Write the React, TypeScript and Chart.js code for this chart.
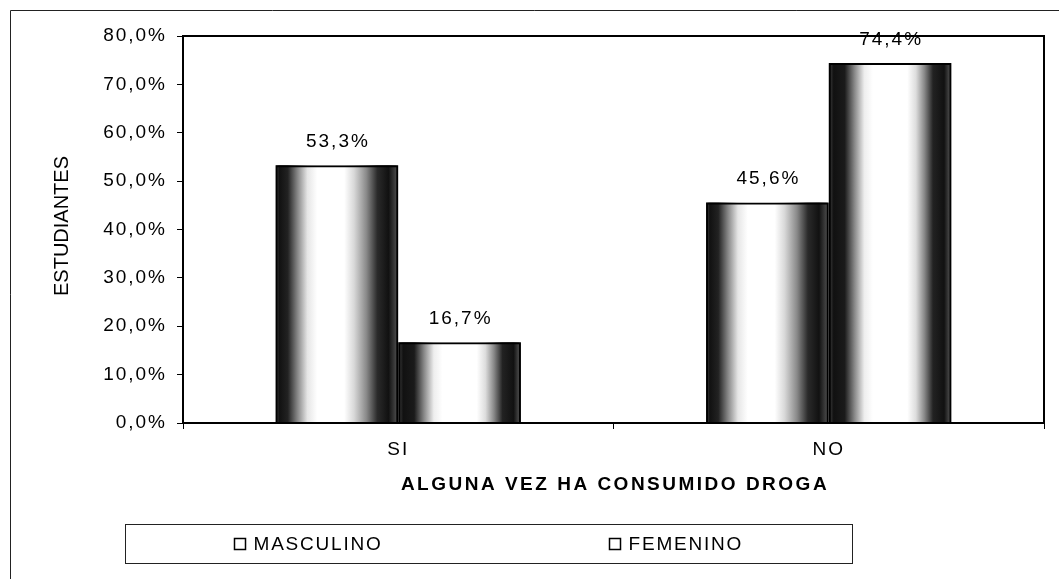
import React, { useEffect, useRef } from 'react';
import { Chart, registerables } from 'chart.js';

Chart.register(...registerables);

const categories = ['SI', 'NO'];
const seriesNames = ['MASCULINO', 'FEMENINO'];
const masculino = [53.3, 45.6];
const femenino = [16.7, 74.4];
const yTickValues = [0, 10, 20, 30, 40, 50, 60, 70, 80];
const yTitle = 'ESTUDIANTES';
const xTitle = 'ALGUNA VEZ HA CONSUMIDO DROGA';

const FONT = '"Liberation Sans", Arial, sans-serif';
const LS = '2px';

const fmt = (v: number) => v.toFixed(1).replace('.', ',') + '%';

const gradientStops: Array<Array<[number, string]>> = [
  [
    [0, '#555'], [0.03, '#111'], [0.1, '#222'], [0.18, '#888'], [0.26, '#e6e6e6'],
    [0.34, '#fff'], [0.56, '#fff'], [0.64, '#d8d8d8'], [0.74, '#8a8a8a'],
    [0.83, '#2a2a2a'], [0.92, '#111'], [0.98, '#444'], [1, '#888'],
  ],
  [
    [0, '#444'], [0.04, '#111'], [0.13, '#1a1a1a'], [0.21, '#888'], [0.29, '#eee'],
    [0.36, '#fff'], [0.64, '#fff'], [0.71, '#ddd'], [0.78, '#888'],
    [0.85, '#222'], [0.94, '#111'], [0.98, '#444'], [1, '#888'],
  ],
];

const stylePlugin = {
  id: 'refStyle',
  beforeUpdate(chart: any) {
    chart.ctx.letterSpacing = LS;
  },
  beforeLayout(chart: any) {
    chart.ctx.letterSpacing = LS;
  },
  beforeDraw(chart: any) {
    const ctx = chart.ctx;
    ctx.letterSpacing = LS;
    ctx.save();
    ctx.fillStyle = '#fff';
    ctx.fillRect(0, 0, chart.width, chart.height);
    ctx.strokeStyle = '#222';
    ctx.lineWidth = 1;
    ctx.beginPath();
    ctx.moveTo(10.5, chart.height);
    ctx.lineTo(10.5, 10.5);
    ctx.lineTo(chart.width, 10.5);
    ctx.stroke();
    ctx.restore();
  },
  beforeDatasetsDraw(chart: any) {
    const ctx = chart.ctx;
    ctx.save();
    chart.data.datasets.forEach((ds: any, di: number) => {
      const meta = chart.getDatasetMeta(di);
      meta.data.forEach((bar: any) => {
        const p = bar.getProps(['x', 'y', 'base', 'width'], true);
        const left = p.x - p.width / 2;
        const right = p.x + p.width / 2;
        const g = ctx.createLinearGradient(left, 0, right, 0);
        gradientStops[di % gradientStops.length].forEach(([o, c]) => g.addColorStop(o, c));
        ctx.fillStyle = g;
        ctx.fillRect(left, Math.min(p.y, p.base), p.width, Math.abs(p.base - p.y));
      });
    });
    ctx.restore();
  },
  afterDatasetsDraw(chart: any) {
    const ctx = chart.ctx;
    const a = chart.chartArea;
    ctx.save();
    ctx.strokeStyle = '#000';
    ctx.lineWidth = 2;
    ctx.strokeRect(a.left, a.top, a.right - a.left, a.bottom - a.top);
    ctx.fillStyle = '#000';
    ctx.font = `19px ${FONT}`;
    ctx.letterSpacing = LS;
    ctx.textAlign = 'center';
    ctx.textBaseline = 'alphabetic';
    chart.data.datasets.forEach((ds: any, di: number) => {
      const meta = chart.getDatasetMeta(di);
      meta.data.forEach((bar: any, i: number) => {
        const p = bar.getProps(['x', 'y'], true);
        ctx.fillText(fmt(ds.data[i]), p.x + 1, p.y - 18);
      });
    });
    ctx.restore();
  },
  afterDraw(chart: any) {
    const ctx = chart.ctx;
    ctx.save();
    ctx.fillStyle = '#000';
    // x title
    ctx.font = `bold 19px ${FONT}`;
    ctx.letterSpacing = '2.5px';
    ctx.textAlign = 'center';
    ctx.textBaseline = 'middle';
    ctx.fillText(xTitle, 615, 485);
    // y title
    ctx.save();
    ctx.translate(62, 226);
    ctx.rotate(-Math.PI / 2);
    ctx.font = `20px ${FONT}`;
    ctx.letterSpacing = '0px';
    ctx.fillText(yTitle, 0, 0);
    ctx.restore();
    // legend
    ctx.strokeStyle = '#222';
    ctx.lineWidth = 1;
    ctx.strokeRect(125.5, 524.5, 727, 39);
    const xs = [234.5, 609.5];
    ctx.font = `19px ${FONT}`;
    ctx.letterSpacing = '1.8px';
    ctx.textAlign = 'left';
    chart.data.datasets.forEach((ds: any, di: number) => {
      ctx.lineWidth = 1.5;
      ctx.strokeStyle = '#000';
      ctx.strokeRect(xs[di], 538.5, 11, 11);
      ctx.fillText(ds.label, xs[di] + 19, 545);
    });
    ctx.restore();
  },
};

export default function App() {
  const ref = useRef<HTMLCanvasElement | null>(null);
  useEffect(() => {
    if (!ref.current) return;
    const chart = new Chart(ref.current, {
      type: 'bar',
      data: {
        labels: categories,
        datasets: [
          {
            label: seriesNames[0],
            data: masculino,
            backgroundColor: 'rgba(0,0,0,0)',
            borderColor: '#000',
            borderWidth: 2,
            categoryPercentage: 0.57,
            barPercentage: 1,
          },
          {
            label: seriesNames[1],
            data: femenino,
            backgroundColor: 'rgba(0,0,0,0)',
            borderColor: '#000',
            borderWidth: 2,
            categoryPercentage: 0.57,
            barPercentage: 1,
          },
        ],
      },
      options: {
        animation: false,
        responsive: true,
        maintainAspectRatio: false,
        layout: { padding: { left: 0, top: 36, right: 15, bottom: 0 } },
        plugins: {
          legend: { display: false },
          title: { display: false },
          tooltip: { enabled: false },
        },
        scales: {
          x: {
            afterFit: (s: any) => { s.height = 156; },
            grid: {
              display: true,
              drawOnChartArea: false,
              drawTicks: true,
              tickLength: 6,
              color: '#000',
              lineWidth: 1,
              offset: true,
            },
            border: { display: true, color: '#000', width: 2 },
            ticks: {
              color: '#000',
              font: { family: FONT, size: 19 },
              padding: 9,
            },
          },
          y: {
            min: 0,
            max: 80,
            afterFit: (s: any) => { s.width = 183; },
            afterBuildTicks: (s: any) => { s.ticks = yTickValues.map((v) => ({ value: v })); },
            grid: {
              display: true,
              drawOnChartArea: false,
              drawTicks: true,
              tickLength: 6,
              color: '#000',
              lineWidth: 1,
            },
            border: { display: true, color: '#000', width: 2 },
            ticks: {
              color: '#000',
              font: { family: FONT, size: 19 },
              padding: 10,
              callback: (v: any) => fmt(Number(v)),
            },
          },
        },
      },
      plugins: [stylePlugin],
    } as any);
    return () => chart.destroy();
  }, []);
  return (
    <div style={{ position: 'fixed', left: 0, top: 0, width: 1059, height: 579, background: '#fff' }}>
      <canvas ref={ref} />
    </div>
  );
}
